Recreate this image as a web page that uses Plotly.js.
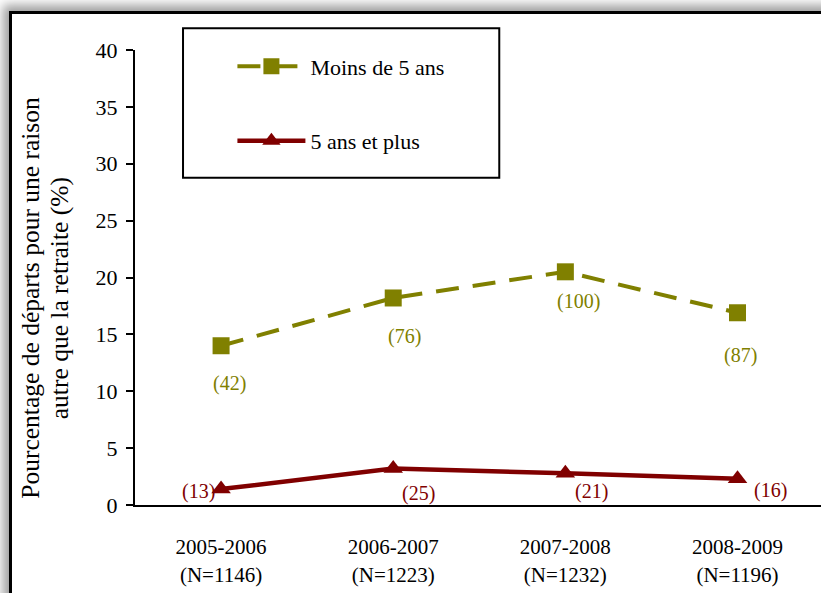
<!DOCTYPE html>
<html>
<head>
<meta charset="utf-8">
<script src="https://cdn.plot.ly/plotly-3.0.1.min.js"></script>
<style>
  html, body { margin: 0; padding: 0; background: #ffffff; overflow: hidden; width: 821px; height: 593px; }
  #frame { position: absolute; left: 9px; top: 11px; width: 2000px; height: 2000px;
           border-left: 3px solid #000; border-top: 3px solid #000; background: #fff;
           box-shadow: -6px -6px 10px rgba(0,0,0,0.38); }
  #chart { position: absolute; left: 0; top: 0; width: 821px; height: 593px; }
</style>
</head>
<body>
<div id="frame"></div>
<div id="chart"></div>
<script>
// ---- data ----
var periods = ['2005-2006', '2006-2007', '2007-2008', '2008-2009'];
var sampleSizes = ['N=1146', 'N=1223', 'N=1232', 'N=1196'];
var seriesNames = ['Moins de 5 ans', '5 ans et plus'];
var moinsDe5 = [14.0, 18.2, 20.5, 16.9];
var cinqEtPlus = [1.4, 3.2, 2.8, 2.3];
var countsMoins = ['(42)', '(76)', '(100)', '(87)'];
var countsPlus = ['(13)', '(25)', '(21)', '(16)'];
var yTicks = [0, 5, 10, 15, 20, 25, 30, 35, 40];

// ---- styling / positioning ----
var OLIVE = '#808000', DARKRED = '#800000';
var FONT = 'Liberation Serif';
var xIdx = periods.map(function (_, i) { return i; });
var tickText = periods.map(function (p, i) { return p + '<br>(' + sampleSizes[i] + ')'; });
var offMoins = [[8, -38], [11, -39], [13, -30], [3, -43]];
var offPlus = [[-23, -2], [25, -25], [26, -18], [33, -12]];

var traces = [
  { x: xIdx, y: moinsDe5, name: seriesNames[0], type: 'scatter', mode: 'lines+markers',
    legendgroup: 'a',
    line: { color: OLIVE, width: 4, dash: '23px,14px' },
    marker: { symbol: 'square', size: 17, color: OLIVE } },
  { x: xIdx, y: cinqEtPlus, name: seriesNames[1], type: 'scatter', mode: 'lines+markers',
    legendgroup: 'b',
    line: { color: DARKRED, width: 4.5 },
    marker: { symbol: 'triangle-up', size: 17, color: DARKRED } }
];

var annotations = [];
countsMoins.forEach(function (t, i) {
  annotations.push({ x: xIdx[i], y: moinsDe5[i], xref: 'x', yref: 'y', text: t, showarrow: false,
    xshift: offMoins[i][0], yshift: offMoins[i][1], font: { family: FONT, size: 20, color: OLIVE } });
});
countsPlus.forEach(function (t, i) {
  annotations.push({ x: xIdx[i], y: cinqEtPlus[i], xref: 'x', yref: 'y', text: t, showarrow: false,
    xshift: offPlus[i][0], yshift: offPlus[i][1], font: { family: FONT, size: 20, color: DARKRED } });
});
// y axis title (two lines)
annotations.push({ xref: 'paper', yref: 'paper', x: -0.152, y: 0.455, xanchor: 'center', yanchor: 'middle',
  textangle: -90, showarrow: false,
  text: 'Pourcentage de départs pour une raison', font: { family: FONT, size: 25.5, color: '#000' } });
annotations.push({ xref: 'paper', yref: 'paper', x: -0.109, y: 0.455, xanchor: 'center', yanchor: 'middle',
  textangle: -90, showarrow: false,
  text: 'autre que la retraite (%)', font: { family: FONT, size: 25.5, color: '#000' } });

var layout = {
  width: 821, height: 593,
  margin: { l: 135, r: 0, t: 50, b: 88, pad: 0 },
  paper_bgcolor: 'rgba(0,0,0,0)', plot_bgcolor: 'rgba(0,0,0,0)',
  font: { family: FONT, color: '#000' },
  xaxis: { range: [-0.5, 3.485], tickvals: xIdx, ticktext: tickText, showgrid: false, zeroline: false,
    showline: true, linecolor: '#000', linewidth: 2, ticks: '', ticklabelstandoff: 22,
    tickfont: { family: FONT, size: 21, color: '#000' }, fixedrange: true },
  yaxis: { range: [0, 40], tickvals: yTicks, showgrid: false, zeroline: false,
    showline: true, linecolor: '#000', linewidth: 2, ticks: 'outside', ticklen: 7, tickwidth: 2,
    tickcolor: '#000', ticklabelstandoff: 4,
    tickfont: { family: FONT, size: 22, color: '#000' }, fixedrange: true },
  showlegend: true,
  legend: { x: 0.142, y: 1.01, xanchor: 'left', yanchor: 'top', bgcolor: 'rgba(0,0,0,0)',
    borderwidth: 0, tracegroupgap: 43, itemwidth: 68,
    font: { family: FONT, size: 22, color: '#000' } },
  shapes: [
    { type: 'rect', xref: 'paper', yref: 'paper', x0: 0.070, x1: 0.531, y0: 0.719, y1: 1.048,
      line: { color: '#000', width: 2 }, fillcolor: 'rgba(0,0,0,0)', layer: 'below' }
  ],
  annotations: annotations
};

Plotly.newPlot('chart', traces, layout, { displayModeBar: false, staticPlot: true });
</script>
</body>
</html>
